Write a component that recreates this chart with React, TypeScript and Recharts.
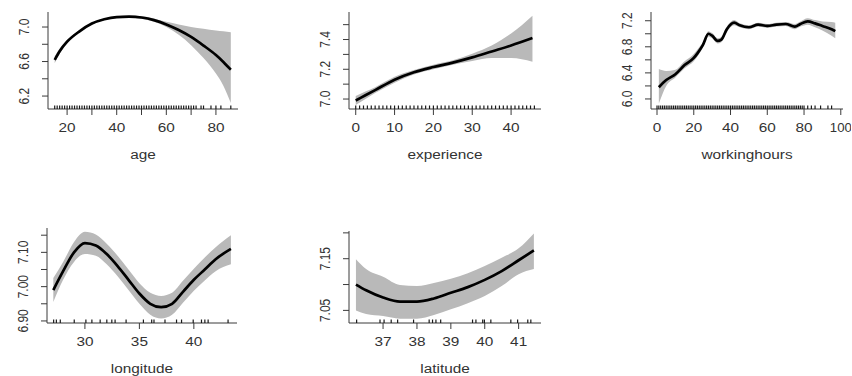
import { ComposedChart, Area, Line, Scatter, XAxis, YAxis } from 'recharts';

// age
const ageX = [15, 17, 20, 25, 30, 35, 40, 45, 50, 55, 60, 65, 70, 75, 80, 83, 86];
const ageFit = [6.62, 6.72, 6.83, 6.95, 7.04, 7.09, 7.115, 7.12, 7.11, 7.08, 7.03, 6.965, 6.885, 6.785, 6.675, 6.595, 6.505];
const ageLo = [6.58, 6.69, 6.81, 6.94, 7.03, 7.08, 7.105, 7.11, 7.095, 7.06, 7.0, 6.91, 6.79, 6.64, 6.46, 6.32, 6.12];
const ageHi = [6.66, 6.75, 6.85, 6.96, 7.05, 7.1, 7.125, 7.13, 7.125, 7.1, 7.06, 7.03, 7.0, 6.98, 6.96, 6.95, 6.94];
const ageRug = [15, 16, 17, 18, 19, 20, 21, 22, 23, 24, 25, 26, 27, 28, 29, 30, 31, 32, 33, 34, 35, 36, 37, 38, 39, 40,
  41, 42, 43, 44, 45, 46, 47, 48, 49, 50, 51, 52, 53, 54, 55, 56, 57, 58, 59, 60, 61, 62, 63, 64, 65, 66, 67, 68, 69, 70,
  71, 72, 74, 75, 78, 80, 82, 86];

// experience
const expX = [0, 2.5, 5, 10, 15, 20, 25, 30, 35, 40, 45.5];
const expFit = [6.99, 7.025, 7.06, 7.13, 7.18, 7.215, 7.245, 7.28, 7.32, 7.36, 7.41];
const expLo = [6.96, 7.0, 7.04, 7.11, 7.165, 7.2, 7.23, 7.255, 7.275, 7.275, 7.25];
const expHi = [7.02, 7.05, 7.08, 7.15, 7.195, 7.23, 7.26, 7.305, 7.36, 7.44, 7.56];
const expRug = [0, 1, 2, 3, 4, 5, 6, 7, 8, 9, 10, 11, 12, 13, 14, 15, 16, 17, 18, 19, 20, 21, 22, 23, 24, 25, 26, 27,
  28, 29, 30, 31, 32, 33, 34, 35, 36, 37, 38, 39, 40, 41, 42, 43, 44, 45, 46];

// workinghours
const whX = [1, 5, 10, 15, 20, 22, 25, 28, 30, 33, 35, 38, 42, 45, 50, 55, 60, 65, 70, 75, 78, 82, 86, 90, 95, 97];
const whFit = [6.18, 6.29, 6.38, 6.52, 6.63, 6.7, 6.83, 7.0, 6.97, 6.89, 6.91, 7.07, 7.17, 7.13, 7.1, 7.14, 7.12, 7.14,
  7.15, 7.11, 7.15, 7.19, 7.16, 7.12, 7.07, 7.04];
const whLo = [5.93, 6.2, 6.33, 6.47, 6.58, 6.65, 6.79, 6.96, 6.93, 6.85, 6.87, 7.03, 7.13, 7.1, 7.07, 7.11, 7.09, 7.11,
  7.12, 7.07, 7.11, 7.14, 7.1, 7.05, 6.97, 6.93];
const whHi = [6.46, 6.43, 6.45, 6.58, 6.69, 6.76, 6.87, 7.04, 7.01, 6.93, 6.95, 7.11, 7.21, 7.16, 7.13, 7.17, 7.15, 7.17,
  7.18, 7.15, 7.19, 7.24, 7.21, 7.19, 7.18, 7.17];
const whRug = [0, 1, 2, 3, 4, 5, 6, 7, 8, 9, 10, 11, 12, 13, 14, 15, 16, 17, 18, 19, 20, 21, 22, 23, 24, 25, 26, 27, 28,
  29, 30, 31, 32, 33, 34, 35, 36, 37, 38, 39, 40, 41, 42, 43, 44, 45, 46, 47, 48, 49, 50, 51, 52, 53, 54, 55, 56, 57, 58,
  59, 60, 61, 62, 63, 64, 65, 66, 67, 68, 69, 70, 71, 72, 73, 74, 75, 76, 77, 78, 79, 80, 82, 84, 86, 89, 93, 95];

// longitude
const lonX = [27.1, 28, 29, 30, 31, 32, 33, 34, 35, 36, 37, 38, 39, 40, 41, 42, 43.4];
const lonFit = [6.99, 7.045, 7.1, 7.127, 7.12, 7.095, 7.06, 7.02, 6.98, 6.95, 6.94, 6.95, 6.985, 7.02, 7.05, 7.08, 7.11];
const lonLo = [6.955, 7.02, 7.072, 7.095, 7.09, 7.065, 7.03, 6.99, 6.95, 6.918, 6.907, 6.918, 6.953, 6.988, 7.018, 7.045, 7.065];
const lonHi = [7.025, 7.072, 7.13, 7.16, 7.152, 7.125, 7.09, 7.05, 7.01, 6.982, 6.973, 6.982, 7.017, 7.052, 7.085, 7.115, 7.15];
const lonRug = [27.13, 27.38, 27.74, 29.02, 30.09, 30.64, 31.4, 32.01, 32.47, 32.77, 33.78, 35.37, 36.13, 36.34, 37.35,
  38.41, 38.87, 39.94, 40.7, 41.01, 41.31, 43.14];

// latitude
const latX = [36.2, 36.5, 37, 37.5, 38, 38.5, 39, 39.5, 40, 40.5, 41, 41.45];
const latFit = [7.1, 7.089, 7.075, 7.067, 7.067, 7.073, 7.084, 7.095, 7.109, 7.126, 7.147, 7.166];
const latLo = [7.05, 7.043, 7.039, 7.034, 7.034, 7.041, 7.052, 7.064, 7.078, 7.097, 7.12, 7.13];
const latHi = [7.149, 7.13, 7.115, 7.099, 7.097, 7.103, 7.111, 7.122, 7.136, 7.152, 7.17, 7.199];
const latRug = [36.22, 36.91, 37.03, 37.24, 37.43, 37.9, 38.36, 38.46, 38.56, 38.7, 39.64, 39.74, 39.94, 39.99, 40.18,
  40.77, 40.97, 41.27, 41.36];

const TEXT = '#333';
const AXIS = '#3a3a3a';
const FONT = '"Liberation Sans", Arial, sans-serif';

const buildRows = (xs: number[], fit: number[], lo: number[], hi: number[]) =>
  xs.map((x, i) => ({ x, fit: fit[i], band: [lo[i], hi[i]] }));

type PanelProps = {
  left: number; top: number; width: number; height: number;
  rows: any[]; rug: number[];
  xDomain: [number, number]; yDomain: [number, number];
  xTicks: number[]; xLabels: string[];
  yTicks: number[]; yLabels: string[];
  title: string;
};

const Panel = (p: PanelProps) => {
  const rugData = p.rug.map((v) => ({ x: v, y: p.yDomain[0] }));

  const xTick = (t: any) => {
    const i = p.xTicks.indexOf(t.payload.value);
    const lab = p.xLabels[i];
    if (!lab) return <g />;
    // the last label of the right-hand panel sits on the page edge
    const sx = lab.length > 2 ? 1.1 : 1.28;
    return (
      <text transform={`translate(${t.x},${t.y + 17}) scale(${sx},1)`} textAnchor="middle"
        fill={TEXT} fontSize={12} fontFamily={FONT}>{lab}</text>
    );
  };

  const yTick = (t: any) => {
    const i = p.yTicks.indexOf(t.payload.value);
    const lab = p.yLabels[i];
    if (!lab) return <g />;
    return (
      <text transform={`translate(${t.x - 12.8},${t.y}) scale(1.2,1) rotate(-90)`} textAnchor="middle"
        fill={TEXT} fontSize={12} fontFamily={FONT}>{lab}</text>
    );
  };

  const titleLabel = (l: any) => {
    const vb = l.viewBox;
    return (
      <text transform={`translate(${vb.x + vb.width / 2},${vb.y + 50}) scale(1.28,1)`} textAnchor="middle"
        fill={TEXT} fontSize={12} fontFamily={FONT}>{p.title}</text>
    );
  };

  return (
    <div style={{ position: 'absolute', left: p.left - 40, top: p.top - 4 }}>
      <ComposedChart width={p.width + 48} height={p.height + 64} data={p.rows}
        margin={{ top: 4, right: 8, left: 0, bottom: 0 }}>
        <XAxis type="number" dataKey="x" domain={p.xDomain} allowDataOverflow ticks={p.xTicks} interval={0}
          height={60} tickSize={6} tickMargin={0} stroke={AXIS} tick={xTick} label={titleLabel} />
        <YAxis type="number" domain={p.yDomain} allowDataOverflow ticks={p.yTicks} interval={0}
          width={40} tickSize={6} tickMargin={0} stroke={AXIS} tick={yTick} />
        <Area dataKey="band" type="monotone" fill="#b9b9b9" fillOpacity={1} stroke="none" isAnimationActive={false} />
        <Line dataKey="fit" type="monotone" stroke="#000" strokeWidth={2.7} dot={false} isAnimationActive={false} />
        <Scatter data={rugData} dataKey="y" isAnimationActive={false}
          shape={(s: any) => <line x1={s.cx} x2={s.cx} y1={s.cy} y2={s.cy - 3.5} stroke="#1a1a1a" strokeWidth={1.2} />} />
      </ComposedChart>
    </div>
  );
};

export default function App() {
  return (
    <div style={{ position: 'absolute', left: 0, top: 0, width: 852, height: 376, background: '#fff', overflow: 'hidden' }}>
      <Panel left={48} top={12} width={190} height={97} rows={buildRows(ageX, ageFit, ageLo, ageHi)} rug={ageRug}
        xDomain={[12.3, 88.9]} yDomain={[6.05, 7.174]}
        xTicks={[20, 30, 40, 50, 60, 70, 80]} xLabels={['20', '', '40', '', '60', '', '80']}
        yTicks={[6.2, 6.4, 6.6, 6.8, 7.0]} yLabels={['6.2', '', '6.6', '', '7.0']} title="age" />
      <Panel left={349} top={12} width={192} height={97} rows={buildRows(expX, expFit, expLo, expHi)} rug={expRug}
        xDomain={[-1.73, 47.7]} yDomain={[6.933, 7.585]}
        xTicks={[0, 10, 20, 30, 40]} xLabels={['0', '10', '20', '30', '40']}
        yTicks={[7.0, 7.1, 7.2, 7.3, 7.4, 7.5]} yLabels={['7.0', '', '7.2', '', '7.4', '']} title="experience" />
      <Panel left={651} top={12} width={192} height={97} rows={buildRows(whX, whFit, whLo, whHi)} rug={whRug}
        xDomain={[-3.27, 101.2]} yDomain={[5.846, 7.334]}
        xTicks={[0, 20, 40, 60, 80, 100]} xLabels={['0', '20', '40', '60', '80', '100']}
        yTicks={[6.0, 6.2, 6.4, 6.6, 6.8, 7.0, 7.2]} yLabels={['6.0', '', '6.4', '', '6.8', '', '7.2']}
        title="workinghours" />
      <Panel left={47} top={228} width={190} height={95} rows={buildRows(lonX, lonFit, lonLo, lonHi)} rug={lonRug}
        xDomain={[26.52, 43.96]} yDomain={[6.894, 7.171]}
        xTicks={[30, 35, 40]} xLabels={['30', '35', '40']}
        yTicks={[6.9, 6.95, 7.0, 7.05, 7.1, 7.15]} yLabels={['6.90', '', '7.00', '', '7.10', '']} title="longitude" />
      <Panel left={349} top={231} width={192} height={92} rows={buildRows(latX, latFit, latLo, latHi)} rug={latRug}
        xDomain={[35.995, 41.66]} yDomain={[7.0256, 7.2036]}
        xTicks={[37, 38, 39, 40, 41]} xLabels={['37', '38', '39', '40', '41']}
        yTicks={[7.05, 7.1, 7.15, 7.2]} yLabels={['7.05', '', '7.15', '']} title="latitude" />
    </div>
  );
}
